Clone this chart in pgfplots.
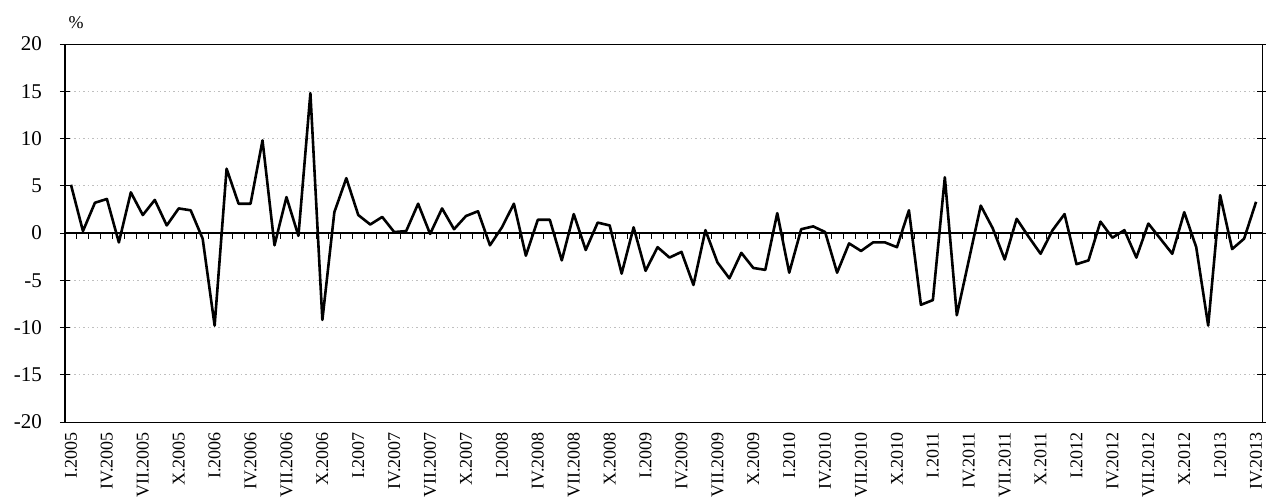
\documentclass[border=0pt]{standalone}
\usepackage{pgfplots}
\pgfplotsset{compat=1.18}
\usepackage{pgfplotstable}
\usepackage{fontspec}
\setmainfont{Liberation Serif}

\pgfplotstableread{
x y
0 5.1
1 0.2
2 3.2
3 3.6
4 -1.0
5 4.3
6 1.9
7 3.5
8 0.8
9 2.6
10 2.4
11 -0.6
12 -9.8
13 6.8
14 3.1
15 3.1
16 9.8
17 -1.3
18 3.8
19 -0.3
20 14.8
21 -9.2
22 2.2
23 5.8
24 1.9
25 0.9
26 1.7
27 0.1
28 0.2
29 3.1
30 -0.1
31 2.6
32 0.4
33 1.8
34 2.3
35 -1.3
36 0.6
37 3.1
38 -2.4
39 1.4
40 1.4
41 -2.9
42 2.0
43 -1.8
44 1.1
45 0.8
46 -4.3
47 0.6
48 -4.0
49 -1.5
50 -2.6
51 -2.0
52 -5.5
53 0.3
54 -3.1
55 -4.8
56 -2.1
57 -3.7
58 -3.9
59 2.1
60 -4.2
61 0.4
62 0.7
63 0.1
64 -4.2
65 -1.1
66 -1.9
67 -1.0
68 -1.0
69 -1.5
70 2.4
71 -7.6
72 -7.1
73 5.9
74 -8.7
75 -2.9
76 2.9
77 0.5
78 -2.8
79 1.5
80 -0.4
81 -2.2
82 0.3
83 2.0
84 -3.3
85 -2.9
86 1.2
87 -0.5
88 0.3
89 -2.6
90 1.0
91 -0.6
92 -2.2
93 2.2
94 -1.5
95 -9.8
96 4.0
97 -1.7
98 -0.6
99 3.3
}\datatable

\begin{document}
\begin{tikzpicture}
\path[use as bounding box] (0,0) rectangle (1266pt,500pt);
\pgfplotsset{
  common/.style={
    at={(65pt,78pt)}, anchor=south west,
    width=1197pt, height=378pt, scale only axis,
    xmin=-0.5, xmax=99.5, ymin=-20, ymax=20,
  }
}
% frame, grid, labels
\begin{axis}[common,
  axis line style={black, line width=0.8pt},
  ytick={-20,-15,...,20},
  ymajorgrids,
  grid style={gray!50, dash pattern=on 1.5pt off 3pt, line width=0.6pt},
  ytick style={black, line width=0.9pt},
  ytick align=center,
  major tick length=10pt,
  xtick={0,3,...,99},
  xtick style={draw=none},
  xticklabels={I.2005,IV.2005,VII.2005,X.2005,I.2006,IV.2006,VII.2006,X.2006,I.2007,IV.2007,VII.2007,X.2007,I.2008,IV.2008,VII.2008,X.2008,I.2009,IV.2009,VII.2009,X.2009,I.2010,IV.2010,VII.2010,X.2010,I.2011,IV.2011,VII.2011,X.2011,I.2012,IV.2012,VII.2012,X.2012,I.2013,IV.2013},
  x tick label style={rotate=90, anchor=east, inner sep=0pt, font=\fontsize{18}{18}\selectfont},
  xticklabel shift=10pt,
  y tick label style={inner sep=0pt, font=\fontsize{21}{21}\selectfont},
  yticklabel shift=18pt,
  /pgf/number format/assume math mode=true,
]
\end{axis}
% zero line with monthly ticks, thick left axis, data
\begin{axis}[common,
  axis x line=middle, axis y line=left,
  axis line style={-},
  x axis line style={black, line width=1.1pt},
  y axis line style={black, line width=2pt},
  xtick={-0.5,0.5,...,99.5},
  xticklabels={},
  ytick=\empty,
  xtick align=outside,
  major tick length=6pt,
  xtick style={black, line width=1pt},
]
\addplot[black, line width=2.6pt, line join=round, mark=none] table[x=x, y=y] {\datatable};
\end{axis}
\node[font=\fontsize{18}{18}\selectfont] at (76pt,477pt) {\%};
\end{tikzpicture}
\end{document}
